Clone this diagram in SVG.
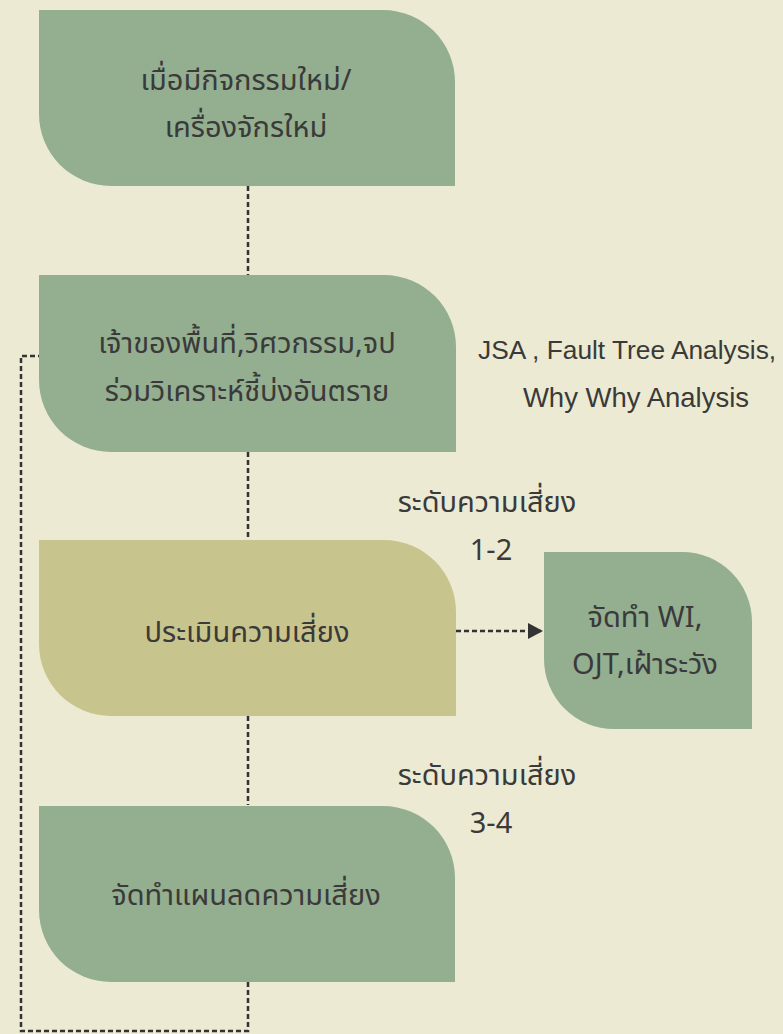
<svg xmlns="http://www.w3.org/2000/svg" width="783" height="1034" viewBox="0 0 783 1034">
<defs>
<style>
.bg{fill:#ecead2}
.g{fill:#94ae90}
.y{fill:#c8c48d}
.t{font-family:"Noto Sans Thai","Noto Sans","DejaVu Sans",sans-serif;font-size:29px;fill:#3a3a3a;text-anchor:middle}
.l{font-family:"Liberation Sans",Arial,sans-serif;font-size:27.5px;fill:#3a3a3a}
.c{fill:none;stroke:#333;stroke-width:2.5;stroke-dasharray:5 3}
</style>
<marker id="ah" markerWidth="16" markerHeight="16" viewBox="0 0 16 16" refX="15" refY="8" orient="auto" markerUnits="userSpaceOnUse">
<path d="M0,0 L15,8 L0,16 Z" fill="#333"/>
</marker>
</defs>
<rect class="bg" x="0" y="0" width="783" height="1034"/>
<g id="connectors">
<path class="c" d="M248,186 V275"/>
<path class="c" d="M248,452 V540"/>
<path class="c" d="M248,716 V805"/>
<path class="c" d="M248,982 V1031 H21 V356 H39"/>
<path class="c" d="M456,631 H543" marker-end="url(#ah)"/>
</g>
<g id="n1">
<path class="g" d="M39,10 H383 A72,72 0 0 1 455,82 V186 H111 A72,72 0 0 1 39,114 Z"/>
<text class="t" x="246" y="90">เมื่อมีกิจกรรมใหม่/</text>
<text class="t" x="246" y="137">เครื่องจักรใหม่</text>
</g>
<g id="n2">
<path class="g" d="M39,275 H384 A72,72 0 0 1 456,347 V452 H111 A72,72 0 0 1 39,380 Z"/>
<text class="t" x="247" y="353">เจ้าของพื้นที่,วิศวกรรม,จป</text>
<text class="t" x="247" y="401">ร่วมวิเคราะห์ชี้บ่งอันตราย</text>
</g>
<g id="note">
<text class="l" x="478" y="359" style="font-size:26.3px">JSA , Fault Tree Analysis,</text>
<text class="l" x="636" y="407" text-anchor="middle">Why Why Analysis</text>
</g>
<g id="n3">
<path class="y" d="M39,540 H384 A72,72 0 0 1 456,612 V716 H111 A72,72 0 0 1 39,644 Z"/>
<text class="t" x="247" y="642">ประเมินความเสี่ยง</text>
</g>
<g id="lbl1">
<text class="t" x="487" y="512">ระดับความเสี่ยง</text>
<text class="t" x="491" y="560">1-2</text>
</g>
<g id="n5">
<path class="g" d="M544,552 H682 A70,70 0 0 1 752,622 V729 H614 A70,70 0 0 1 544,659 Z"/>
<text class="t" x="645" y="627">จัดทำ WI,</text>
<text class="t" x="645" y="674">OJT,เฝ้าระวัง</text>
</g>
<g id="lbl2">
<text class="t" x="487" y="785">ระดับความเสี่ยง</text>
<text class="t" x="491" y="833">3-4</text>
</g>
<g id="n4">
<path class="g" d="M39,806 H383 A72,72 0 0 1 455,878 V982 H111 A72,72 0 0 1 39,910 Z"/>
<text class="t" x="246" y="905">จัดทำแผนลดความเสี่ยง</text>
</g>
</svg>
